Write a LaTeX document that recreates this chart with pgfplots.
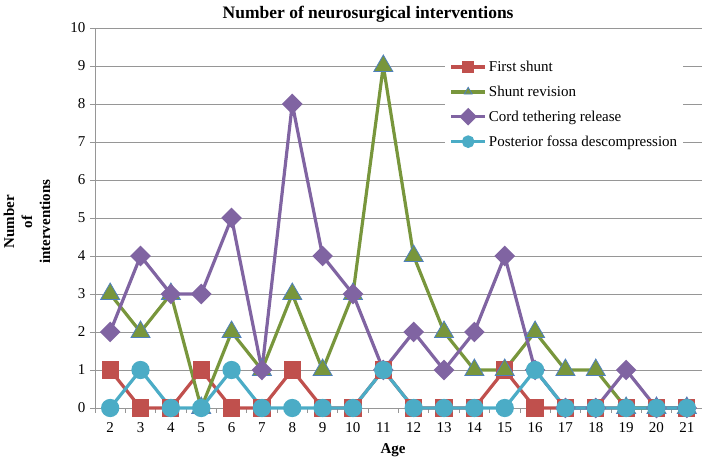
\documentclass[border=0pt]{standalone}
\usepackage{fontspec}
\setmainfont{Liberation Serif}
\usepackage{pgfplots}
\pgfplotsset{compat=1.18}
\definecolor{cred}{RGB}{192,80,77}
\definecolor{cgreen}{RGB}{120,150,60}
\definecolor{cpurple}{RGB}{128,100,162}
\definecolor{ccyan}{RGB}{75,172,198}
\definecolor{cblue}{RGB}{79,129,189}
\definecolor{cgrid}{RGB}{150,150,150}

\begin{document}
\begin{tikzpicture}
\begin{axis}[
    scale only axis,
    width=607pt, height=380pt,
    xmin=1.5, xmax=21.5, ymin=0, ymax=10,
    axis x line*=bottom, axis y line*=left,
    axis line style={cgrid, line width=0.8pt, -},
    xtick={2,...,21}, ytick={0,...,10},
    minor xtick={1.5,2.5,...,21.5},
    minor ytick={0,...,10},
    major tick length=0pt, minor tick length=5pt,
    tick align=outside,
    tick style={cgrid, line width=0.8pt},
    ymajorgrids,
    grid style={cgrid, line width=0.8pt},
    clip=false,
    /pgf/number format/assume math mode=true,
    ticklabel style={font=\fontsize{15}{18}\selectfont},
    yticklabel style={xshift=-6pt},
    xticklabel style={yshift=-11pt},
    legend style={at={(0.577,0.935)}, anchor=north west, draw=none, fill=white,
        font=\fontsize{15}{18}\selectfont, inner xsep=4pt, inner ysep=6pt,
        row sep=9pt},
    legend cell align=left,
    legend image code/.code={\draw[mark repeat=2,mark phase=2,#1] plot coordinates {(0pt,0pt) (17pt,0pt) (34pt,0pt)};},
    legend image post style={mark size=4.5pt, line width=3.5pt},
]
\addplot[cred, line width=3.2pt, mark=square*, mark size=7pt] coordinates {
    (2,1) (3,0) (4,0) (5,1) (6,0) (7,0) (8,1) (9,0) (10,0) (11,1)
    (12,0) (13,0) (14,0) (15,1) (16,0) (17,0) (18,0) (19,0) (20,0) (21,0)
};
\addlegendentry{First shunt}
\addplot[cgreen, line width=3.2pt, mark=triangle*, mark size=11pt,
    mark options={fill=cgreen, draw=cblue, line width=0.8pt}] coordinates {
    (2,3) (3,2) (4,3) (5,0) (6,2) (7,1) (8,3) (9,1) (10,3) (11,9)
    (12,4) (13,2) (14,1) (15,1) (16,2) (17,1) (18,1) (19,0) (20,0) (21,0)
};
\addlegendentry{Shunt revision}
\addplot[cpurple, line width=3.2pt, mark=square*, mark size=5.7pt,
    mark options={rotate=45}] coordinates {
    (2,2) (3,4) (4,3) (5,3) (6,5) (7,1) (8,8) (9,4) (10,3) (11,1)
    (12,2) (13,1) (14,2) (15,4) (16,1) (17,0) (18,0) (19,1) (20,0) (21,0)
};
\addlegendentry{Cord tethering release}
\addplot[ccyan, line width=3.2pt, mark=*, mark size=7.5pt] coordinates {
    (2,0) (3,1) (4,0) (5,0) (6,1) (7,0) (8,0) (9,0) (10,0) (11,1)
    (12,0) (13,0) (14,0) (15,0) (16,1) (17,0) (18,0) (19,0) (20,0) (21,0)
};
\addlegendentry{Posterior fossa descompression}
\node[font=\fontsize{17.5}{21}\bfseries] at (rel axis cs:0.45,1) [yshift=14pt] {Number of neurosurgical interventions};
\node[xshift=-68pt, rotate=90, align=center, font=\fontsize{15}{18}\bfseries] at (rel axis cs:0,0.49) {Number\\of\\interventions};
\node[font=\fontsize{15}{18}\bfseries] at (rel axis cs:0.491,0) [yshift=-42pt] {Age};
\end{axis}
\pgfresetboundingbox
\path[use as bounding box] (-95pt,-52pt) rectangle (607pt,408pt);
\end{tikzpicture}
\end{document}
